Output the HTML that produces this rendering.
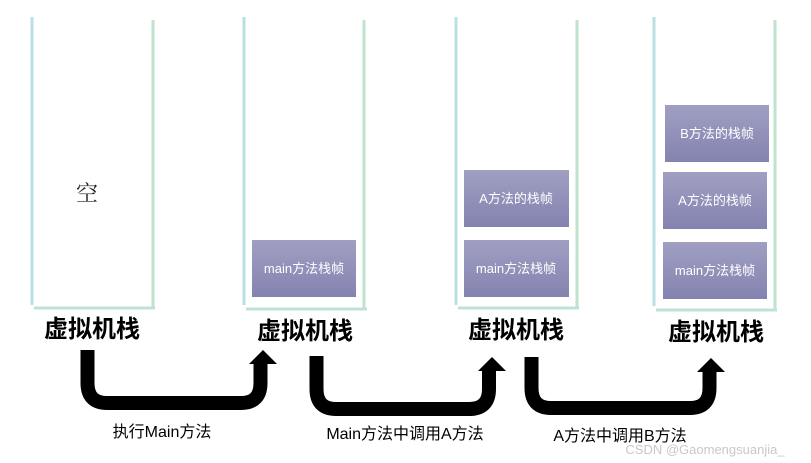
<!DOCTYPE html>
<html><head><meta charset="utf-8"><style>
html,body{margin:0;padding:0;background:#fff;width:811px;height:463px;overflow:hidden}
svg text{font-family:"Liberation Sans","Noto Sans CJK SC",sans-serif}
</style></head><body>
<svg width="811" height="463" viewBox="0 0 811 463" xmlns="http://www.w3.org/2000/svg">
<defs>
<linearGradient id="g" x1="0" y1="0" x2="0" y2="1">
<stop offset="0" stop-color="#a09fc2"/><stop offset="1" stop-color="#8483b0"/>
</linearGradient>
</defs>
<g stroke-width="3" fill="none">
<line x1="32" y1="17" x2="32" y2="305" stroke="#b9dfe3"/>
<line x1="153" y1="20" x2="153" y2="309" stroke="#bfe3cf"/>
<line x1="34" y1="308" x2="155" y2="308" stroke="#bfe3d2"/>
<line x1="244" y1="17" x2="244" y2="305" stroke="#b9dfe3"/>
<line x1="364" y1="20" x2="364" y2="309" stroke="#bfe3cf"/>
<line x1="246" y1="309" x2="367" y2="309" stroke="#bfe3d2"/>
<line x1="456" y1="17" x2="456" y2="305" stroke="#b9dfe3"/>
<line x1="577" y1="20" x2="577" y2="309" stroke="#bfe3cf"/>
<line x1="458" y1="308" x2="579" y2="308" stroke="#bfe3d2"/>
<line x1="654" y1="17" x2="654" y2="306" stroke="#b9dfe3"/>
<line x1="775" y1="20" x2="775" y2="311" stroke="#bfe3cf"/>
<line x1="656" y1="310" x2="777" y2="310" stroke="#bfe3d2"/>
</g>
<text x="87" y="201" font-size="22" text-anchor="middle" style="font-family:'Noto Serif CJK SC','Liberation Serif',serif" fill="#222">空</text>
<g fill="url(#g)">
<rect x="252" y="240" width="104" height="57"/>
<rect x="464" y="170" width="105" height="57"/>
<rect x="464" y="240" width="105" height="57"/>
<rect x="665" y="105" width="104" height="57"/>
<rect x="663" y="172" width="104" height="57"/>
<rect x="663" y="242" width="104" height="57"/>
</g>
<g fill="#fff" font-size="13" text-anchor="middle">
<text x="304" y="273">main方法栈帧</text>
<text x="516" y="203">A方法的栈帧</text>
<text x="516" y="273">main方法栈帧</text>
<text x="717" y="138">B方法的栈帧</text>
<text x="715" y="205">A方法的栈帧</text>
<text x="715" y="275">main方法栈帧</text>
</g>
<g font-size="24" font-weight="bold" fill="#000" text-anchor="middle" style="font-family:'Noto Serif CJK SC','Noto Sans CJK SC',serif">
<text x="92" y="337">虚拟机栈</text>
<text x="305" y="339">虚拟机栈</text>
<text x="516" y="338">虚拟机栈</text>
<text x="716" y="340">虚拟机栈</text>
</g>
<g fill="none" stroke="#000" stroke-width="14">
<path d="M87.5 350 V383 Q87.5 403 107 403 H241 Q260.5 403 260.5 383 V362"/>
<path d="M316.5 356 V389 Q316.5 409 336 409 H469 Q489 409 489 389 V369"/>
<path d="M531.5 357 V388 Q531.5 408 551 408 H690 Q709.5 408 709.5 388 V370"/>
</g>
<g fill="#000">
<polygon points="263,350 277,364 249,364"/>
<polygon points="492,357 506,371 478,371"/>
<polygon points="711,358 725,372 697,372"/>
</g>
<g font-size="16" fill="#000" text-anchor="middle">
<text x="162" y="437">执行Main方法</text>
<text x="405" y="439">Main方法中调用A方法</text>
<text x="620" y="441">A方法中调用B方法</text>
</g>
<text x="705" y="454" font-size="13" fill="#c8c8c8" text-anchor="middle">CSDN @Gaomengsuanjia_</text>
</svg>
</body></html>
